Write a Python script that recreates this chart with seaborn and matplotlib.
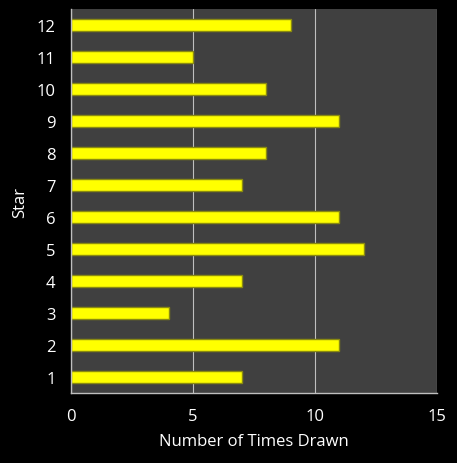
import matplotlib
matplotlib.use("Agg")
import matplotlib.pyplot as plt
import seaborn as sns
import pandas as pd

stars = ["1", "2", "3", "4", "5", "6", "7", "8", "9", "10", "11", "12"]
times_drawn = [7, 11, 4, 7, 12, 11, 7, 8, 11, 8, 5, 9]
x_ticks = [0, 5, 10, 15]

df = pd.DataFrame({"Star": stars, "Times": times_drawn})

sns.set_theme(style="dark")
plt.rcParams["font.family"] = ["Open Sans", "DejaVu Sans"]

fig = plt.figure(figsize=(4.57, 4.64), dpi=100, facecolor="black")
ax = fig.add_axes([71/457, 1-394/464, (437-71)/457, (394-10)/464])
ax.set_facecolor("#404040")

sns.barplot(data=df, x="Times", y="Star", order=stars[::-1], orient="h",
            color="#FFFF00", edgecolor="#8a8a10", linewidth=1.0, width=0.375,
            saturation=1, ax=ax)

ax.set_xlim(0, 15)
ax.set_ylim(11.5, -0.5)
ax.set_xticks(x_ticks)
ax.set_xticklabels([str(t) for t in x_ticks])
ax.grid(axis="x", color="#bfbfbf", linewidth=0.8)
ax.grid(axis="y", visible=False)
ax.set_axisbelow(True)

for s in ["top", "right"]:
    ax.spines[s].set_visible(False)
for s in ["left", "bottom"]:
    ax.spines[s].set_visible(True)
    ax.spines[s].set_color("#bfbfbf")
    ax.spines[s].set_linewidth(1.0)

ax.tick_params(axis="both", colors="white", labelsize=12, length=0, pad=11)
ax.tick_params(axis="x", pad=11)
ax.set_xlabel("Number of Times Drawn", color="white", fontsize=12, labelpad=6)
ax.set_ylabel("Star", color="white", fontsize=12, labelpad=6)

fig.savefig("out.png", dpi=100, facecolor="black")
